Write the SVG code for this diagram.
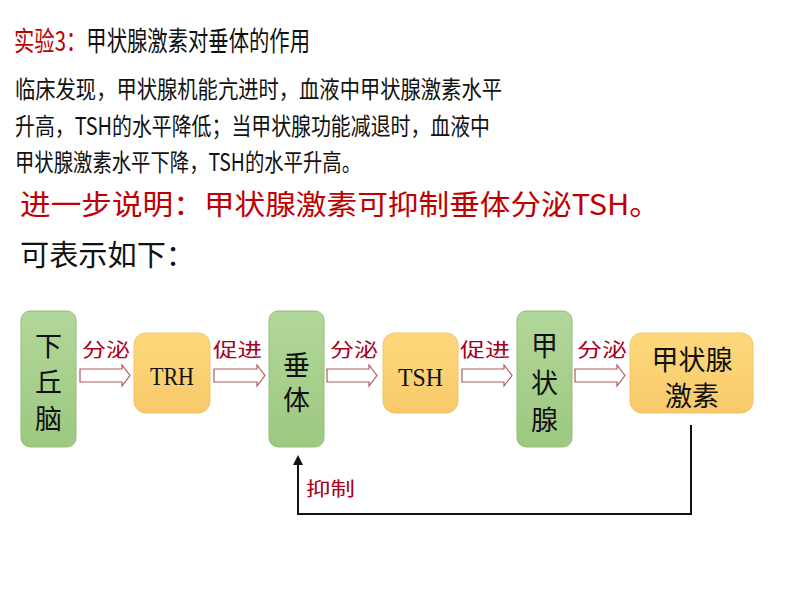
<svg xmlns="http://www.w3.org/2000/svg" width="794" height="596" viewBox="0 0 794 596">
<defs>
<linearGradient id="gGreen" x1="0" y1="0" x2="0" y2="1">
<stop offset="0" stop-color="#b2d79a"/>
<stop offset="1" stop-color="#9cc880"/>
</linearGradient>
<linearGradient id="gOrange" x1="0" y1="0" x2="0" y2="1">
<stop offset="0" stop-color="#fdd97c"/>
<stop offset="1" stop-color="#f8c96a"/>
</linearGradient>
<style>
.cjk{font-family:"Noto Sans CJK SC","Noto Sans",sans-serif;}
.red{fill:#c00000;}
.blk{fill:#111;}
.title{font-size:27px;}
.body{font-size:24px;font-weight:400;fill:#111;}
.green{fill:url(#gGreen);stroke:#93bd78;stroke-width:1;}
.orange{fill:url(#gOrange);stroke:#f3c466;stroke-width:1;}
.ntext{font-family:"Noto Sans CJK SC","Noto Sans",sans-serif;font-size:27px;fill:#111;text-anchor:middle;}
.lat{font-family:"Liberation Serif",serif;font-size:26px;fill:#111;}
.lbl{font-family:"Noto Sans CJK SC","Noto Sans",sans-serif;font-size:19px;fill:#a8001c;}
.harrow{fill:#fff;stroke:#b25a5a;stroke-width:1.2;}
.fb{fill:none;stroke:#111;stroke-width:2;}
</style>
</defs>

<g id="texts">
<text class="cjk title" x="14" y="51" textLength="296" lengthAdjust="spacingAndGlyphs"><tspan class="red">实验3：</tspan><tspan class="blk">甲状腺激素对垂体的作用</tspan></text>
<text class="cjk body" x="15" y="98" textLength="487" lengthAdjust="spacingAndGlyphs">临床发现，甲状腺机能亢进时，血液中甲状腺激素水平</text>
<text class="cjk body" x="15" y="135" textLength="475" lengthAdjust="spacingAndGlyphs">升高，TSH的水平降低；当甲状腺功能减退时，血液中</text>
<text class="cjk body" x="15" y="171" textLength="346" lengthAdjust="spacingAndGlyphs">甲状腺激素水平下降，TSH的水平升高。</text>
<text class="cjk red" x="20" y="215" font-size="28" textLength="640" lengthAdjust="spacingAndGlyphs">进一步说明：甲状腺激素可抑制垂体分泌TSH。</text>
<text class="cjk blk" x="20" y="266" font-size="29" textLength="175" lengthAdjust="spacingAndGlyphs">可表示如下：</text>
</g>

<g id="connectors">
<path class="harrow" d="M80,369 H122 V365 L130,375.5 L122,386 V382 H80 Z"/>
<path class="harrow" d="M214,369 H257 V365 L265,375.5 L257,386 V382 H214 Z"/>
<path class="harrow" d="M327,369 H369 V365 L377,375.5 L369,386 V382 H327 Z"/>
<path class="harrow" d="M462,369 H504 V365 L512,375.5 L504,386 V382 H462 Z"/>
<path class="harrow" d="M575,369 H617 V365 L625,375.5 L617,386 V382 H575 Z"/>
<text class="lbl" x="82" y="357" textLength="48" lengthAdjust="spacingAndGlyphs">分泌</text>
<text class="lbl" x="213" y="357" textLength="49" lengthAdjust="spacingAndGlyphs">促进</text>
<text class="lbl" x="330" y="357" textLength="48" lengthAdjust="spacingAndGlyphs">分泌</text>
<text class="lbl" x="460" y="357" textLength="50" lengthAdjust="spacingAndGlyphs">促进</text>
<text class="lbl" x="577" y="357" textLength="50" lengthAdjust="spacingAndGlyphs">分泌</text>
<polyline class="fb" points="691,425 691,514 298,514 298,463"/>
<path d="M293,465 L298,455 L303,465 Z" fill="#111"/>
<text class="lbl" x="306" y="496" font-size="22" textLength="49" lengthAdjust="spacingAndGlyphs">抑制</text>
</g>

<g id="node-xiaqiunao">
<rect class="green" x="21" y="311" width="55" height="136" rx="9"/>
<text class="ntext" x="48.5" y="356">下</text>
<text class="ntext" x="48.5" y="392">丘</text>
<text class="ntext" x="48.5" y="429">脑</text>
</g>

<g id="node-trh">
<rect class="orange" x="134" y="333" width="76" height="80" rx="12"/>
<text class="lat" x="150" y="385" textLength="44" lengthAdjust="spacingAndGlyphs">TRH</text>
</g>

<g id="node-chuiti">
<rect class="green" x="269" y="311" width="55" height="136" rx="9"/>
<text class="ntext" x="296.5" y="375">垂</text>
<text class="ntext" x="296.5" y="410">体</text>
</g>

<g id="node-tsh">
<rect class="orange" x="383" y="333" width="75" height="80" rx="12"/>
<text class="lat" x="398" y="386" textLength="45" lengthAdjust="spacingAndGlyphs">TSH</text>
</g>

<g id="node-jiazhuangxian">
<rect class="green" x="517" y="311" width="55" height="136" rx="9"/>
<text class="ntext" x="544.5" y="356">甲</text>
<text class="ntext" x="544.5" y="393">状</text>
<text class="ntext" x="544.5" y="430">腺</text>
</g>

<g id="node-jisu">
<rect class="orange" x="630" y="333" width="123" height="80" rx="12"/>
<text class="ntext" x="692" y="370">甲状腺</text>
<text class="ntext" x="692" y="406">激素</text>
</g>
</svg>
